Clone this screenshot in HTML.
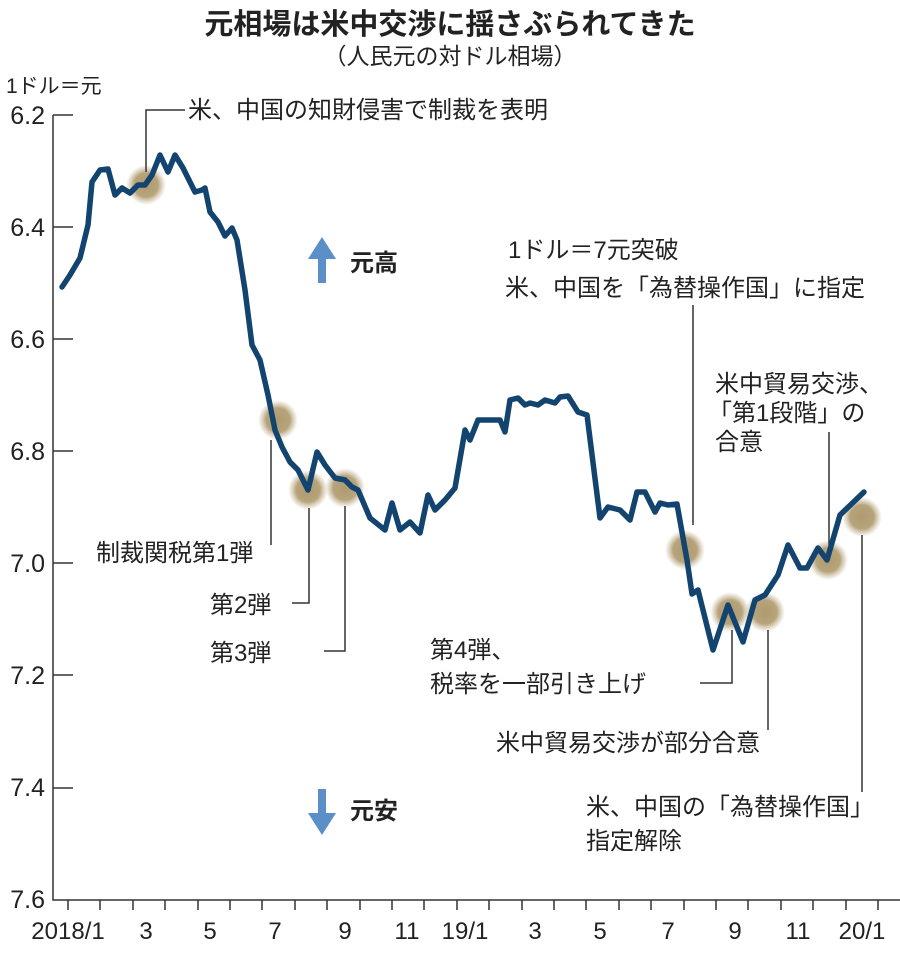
<!DOCTYPE html>
<html><head><meta charset="utf-8"><style>
body{margin:0;background:#fff;}
svg text{font-family:"Liberation Sans","Noto Sans CJK JP",sans-serif;fill:#222;}
</style></head><body>
<svg width="900" height="950" viewBox="0 0 900 950" xmlns="http://www.w3.org/2000/svg">
<defs>
<radialGradient id="g"><stop offset="0" stop-color="#b09a6e"/><stop offset="0.6" stop-color="#b7a47c"/><stop offset="1" stop-color="#c8b899" stop-opacity="0"/></radialGradient>
</defs>
<text x="450" y="34" font-size="29" font-weight="bold" text-anchor="middle">元相場は米中交渉に揺さぶられてきた</text>
<text x="450" y="64" font-size="23" text-anchor="middle">（人民元の対ドル相場）</text>
<text x="6" y="93" font-size="21">1ドル＝元</text>
<g font-size="25" text-anchor="end">
<text x="45" y="124">6.2</text><text x="45" y="236">6.4</text><text x="45" y="348">6.6</text>
<text x="45" y="460">6.8</text><text x="45" y="572">7.0</text><text x="45" y="684">7.2</text>
<text x="45" y="796">7.4</text><text x="45" y="908">7.6</text>
</g>
<g stroke="#333" stroke-width="1.5" fill="none">
<path d="M53 115V900H900"/>
<path d="M53 115H73M53 227H73M53 339H73M53 451H73M53 563H73M53 675H73M53 788H73"/>
<path d="M68 900v10M100 900v10M133 900v10M165 900v10M198 900v10M230 900v10M262 900v10M295 900v10M327 900v10M360 900v10M392 900v10M424 900v10M457 900v10M489 900v10M522 900v10M554 900v10M586 900v10M619 900v10M651 900v10M684 900v10M716 900v10M748 900v10M781 900v10M813 900v10M846 900v10M878 900v10"/>
</g>
<g font-size="24" text-anchor="middle">
<text x="68" y="939">2018/1</text><text x="146" y="939">3</text><text x="210" y="939">5</text>
<text x="275" y="939">7</text><text x="345" y="939">9</text><text x="407" y="939">11</text>
<text x="465" y="939">19/1</text><text x="535" y="939">3</text><text x="600" y="939">5</text>
<text x="668" y="939">7</text><text x="735" y="939">9</text><text x="798" y="939">11</text>
<text x="862" y="939">20/1</text>
</g>
<g fill="url(#g)">
<circle cx="146" cy="185" r="20"/><circle cx="278" cy="420" r="20"/><circle cx="308" cy="490" r="20"/>
<circle cx="345" cy="488" r="20"/><circle cx="685" cy="550" r="20"/><circle cx="730" cy="612" r="20"/>
<circle cx="765" cy="612" r="20"/><circle cx="828" cy="560" r="20"/><circle cx="862" cy="517" r="20"/>
</g>
<g stroke="#333" stroke-width="1.5" fill="none">
<path d="M146 172V110H185"/>
<path d="M271 440V545"/>
<path d="M309 508V603H292"/>
<path d="M345 506V651H324"/>
<path d="M693 305V525"/>
<path d="M732 630V683H700"/>
<path d="M768 630V730"/>
<path d="M829 432V545"/>
<path d="M862 535V792"/>
</g>
<path fill="none" stroke="#12446f" stroke-width="5.5" stroke-linejoin="round" stroke-linecap="round" d="M62 287L70 275L80 258L88 225L92 182L100 170L108 169L115 195L122 188L130 193L138 185L145 185L152 175L160 155L168 172L175 155L183 168L190 182L195 192L202 190L205 188L210 212L218 222L225 236L232 228L237 240L245 290L252 345L260 360L268 395L275 430L282 447L290 462L298 470L308 490L317 452L325 465L335 478L345 480L352 487L358 490L370 518L385 530L392 503L400 530L410 522L420 533L428 495L435 510L445 500L455 488L465 430L470 440L478 420L490 420L500 420L505 432L510 400L518 398L525 405L530 403L538 405L545 400L555 403L560 397L568 396L578 412L587 415L600 518L608 507L620 510L630 520L637 492L645 492L655 512L660 503L668 505L677 504L687 560L692 594L698 590L713 650L728 605L743 642L755 600L765 595L778 575L788 545L800 568L807 568L818 548L827 560L840 515L864 492"/>
<g fill="#5b8fc7">
<path d="M322 237L336 259H326V283H318V259H308Z"/>
<path d="M322 835L336 813H326V789H318V813H308Z"/>
</g>
<g font-size="24" font-weight="bold"><text x="350" y="271">元高</text><text x="350" y="819">元安</text></g>
<g font-size="24">
<text x="188" y="118">米、中国の知財侵害で制裁を表明</text>
<text x="96" y="561">制裁関税第1弾</text>
<text x="210" y="613">第2弾</text>
<text x="210" y="661">第3弾</text>
<text x="508" y="258">1ドル＝7元突破</text>
<text x="505" y="296">米、中国を「為替操作国」に指定</text>
<text x="715" y="392">米中貿易交渉、</text>
<text x="708" y="421">「第1段階」の</text>
<text x="715" y="450">合意</text>
<text x="430" y="658">第4弾、</text>
<text x="430" y="692">税率を一部引き上げ</text>
<text x="496" y="751">米中貿易交渉が部分合意</text>
<text x="586" y="815">米、中国の「為替操作国」</text>
<text x="586" y="849">指定解除</text>
</g>
</svg>
</body></html>
